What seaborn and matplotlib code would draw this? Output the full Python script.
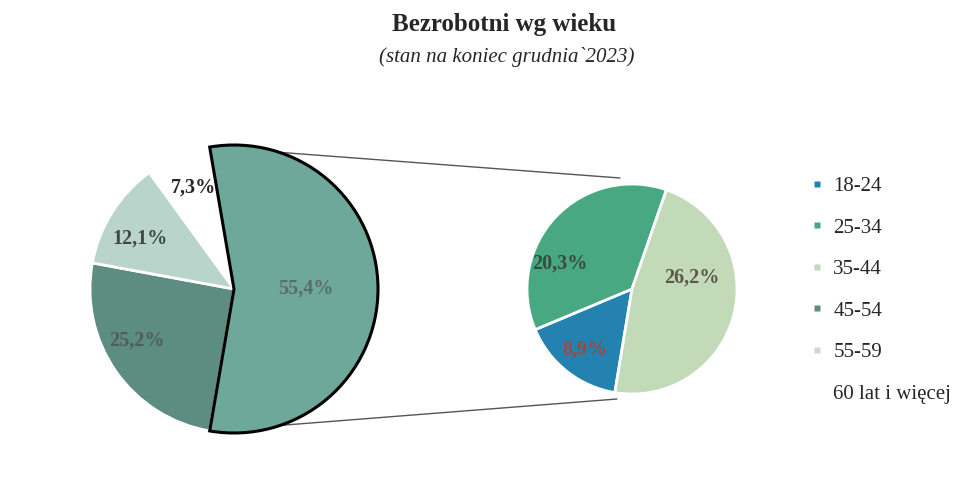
import numpy as np
import matplotlib
matplotlib.use("Agg")
import matplotlib.pyplot as plt
from matplotlib.lines import Line2D
import seaborn as sns

# --- DATA ---
LEFT_LABELS = ["pozostałe", "45-54", "55-59", "60 lat i więcej"]
LEFT_VALUES = [55.4, 25.2, 12.1, 7.3]
RIGHT_LABELS = ["18-24", "25-34", "35-44"]
RIGHT_VALUES = [8.9, 20.3, 26.2]
LEGEND_ORDER = ["18-24", "25-34", "35-44", "45-54", "55-59", "60 lat i więcej"]

TITLE = "Bezrobotni wg wieku"
SUBTITLE = "(stan na koniec grudnia`2023)"

# --- STYLE ---
sns.set_style("white")
plt.rcParams["font.family"] = ["Liberation Serif", "DejaVu Serif"]

left_colors = sns.color_palette(["#6ea89b", "#5d8c80", "#b9d4ca", "#ffffff"])
right_colors = sns.color_palette(["#2382af", "#48a882", "#c3dab9"])
left_text = ["#5a6e68", "#4d5f58", "#3d4a46", "#262626"]
right_text = ["#9a4a40", "#3a4a40", "#5a5848"]

W, H = 978, 491
fig = plt.figure(figsize=(W / 100, H / 100), dpi=100)
ax = fig.add_axes([0, 0, 1, 1])

# pixel geometry (y measured from bottom)
c1, r1 = (234, H - 289), 144
c2, r2 = (632, H - 289), 105


def fmt(total):
    return lambda p: f"{p * total / 100:.1f}%".replace(".", ",")


def place(texts, center, radius, angles, dists):
    # Excel-like label placement inside the wedges
    for t, a, d in zip(texts, angles, dists):
        a = np.deg2rad(a)
        t.set_position((center[0] + d * radius * np.cos(a),
                        center[1] + d * radius * np.sin(a)))


start1 = LEFT_VALUES[0] / 100 * 360 / 2
w1, _, t1 = ax.pie(LEFT_VALUES, colors=left_colors, center=c1, radius=r1,
                   startangle=start1, counterclock=False,
                   autopct=fmt(sum(LEFT_VALUES)),
                   wedgeprops=dict(edgecolor="white", linewidth=2),
                   textprops=dict(fontsize=14.5, fontweight="bold"),
                   frame=True)
w1[0].set_edgecolor("black")
w1[0].set_linewidth(2.2)
w1[0].set_zorder(3)
place(t1, c1, r1, [0, 208, 152, 112], [0.5, 0.76, 0.74, 0.76])
for t, col in zip(t1, left_text):
    t.set_color(col)
    t.set_zorder(4)

w2, _, t2 = ax.pie(RIGHT_VALUES, colors=right_colors, center=c2, radius=r2,
                   startangle=260.6, counterclock=False,
                   autopct=fmt(sum(RIGHT_VALUES)),
                   wedgeprops=dict(edgecolor="white", linewidth=2),
                   textprops=dict(fontsize=14.5, fontweight="bold"),
                   frame=True)
place(t2, c2, r2, [232, 161, 11], [0.73, 0.73, 0.58])
for t, col in zip(t2, right_text):
    t.set_color(col)
ax.set_xlim(0, W)
ax.set_ylim(0, H)
ax.set_aspect("equal")
ax.axis("off")

# connector lines from the big wedge edges to the second pie
a_top = np.deg2rad(w1[0].theta2)
a_bot = np.deg2rad(w1[0].theta1)
p_top = (c1[0] + r1 * np.cos(a_top), c1[1] + r1 * np.sin(a_top))
p_bot = (c1[0] + r1 * np.cos(a_bot), c1[1] + r1 * np.sin(a_bot))
q_top = (c2[0] - 12, c2[1] + r2 + 6)
q_bot = (c2[0] - 15, c2[1] - r2 - 5)
ax.plot([p_top[0], q_top[0]], [p_top[1], q_top[1]], color="#555555", lw=1, zorder=1)
ax.plot([p_bot[0], q_bot[0]], [p_bot[1], q_bot[1]], color="#555555", lw=1, zorder=1)

# legend
color_map = dict(zip(RIGHT_LABELS, right_colors))
color_map.update(dict(zip(LEFT_LABELS, left_colors)))
color_map["55-59"] = "#d0d8d6"
handles = [Line2D([], [], linestyle="none", marker="s", markersize=5,
                  markerfacecolor=color_map[k], markeredgecolor="none")
           for k in LEGEND_ORDER]
fig.legend(handles, LEGEND_ORDER, loc="upper left", bbox_to_anchor=(0.82, 0.657),
           frameon=False, fontsize=15, labelspacing=1.05, handlelength=0.6,
           handletextpad=0.5, borderaxespad=0)

fig.text(0.515, 0.951, TITLE, ha="center", va="center", fontsize=18, fontweight="bold")
fig.text(0.518, 0.884, SUBTITLE, ha="center", va="center", fontsize=15, style="italic")

fig.savefig("out.png", dpi=100, facecolor="white")
